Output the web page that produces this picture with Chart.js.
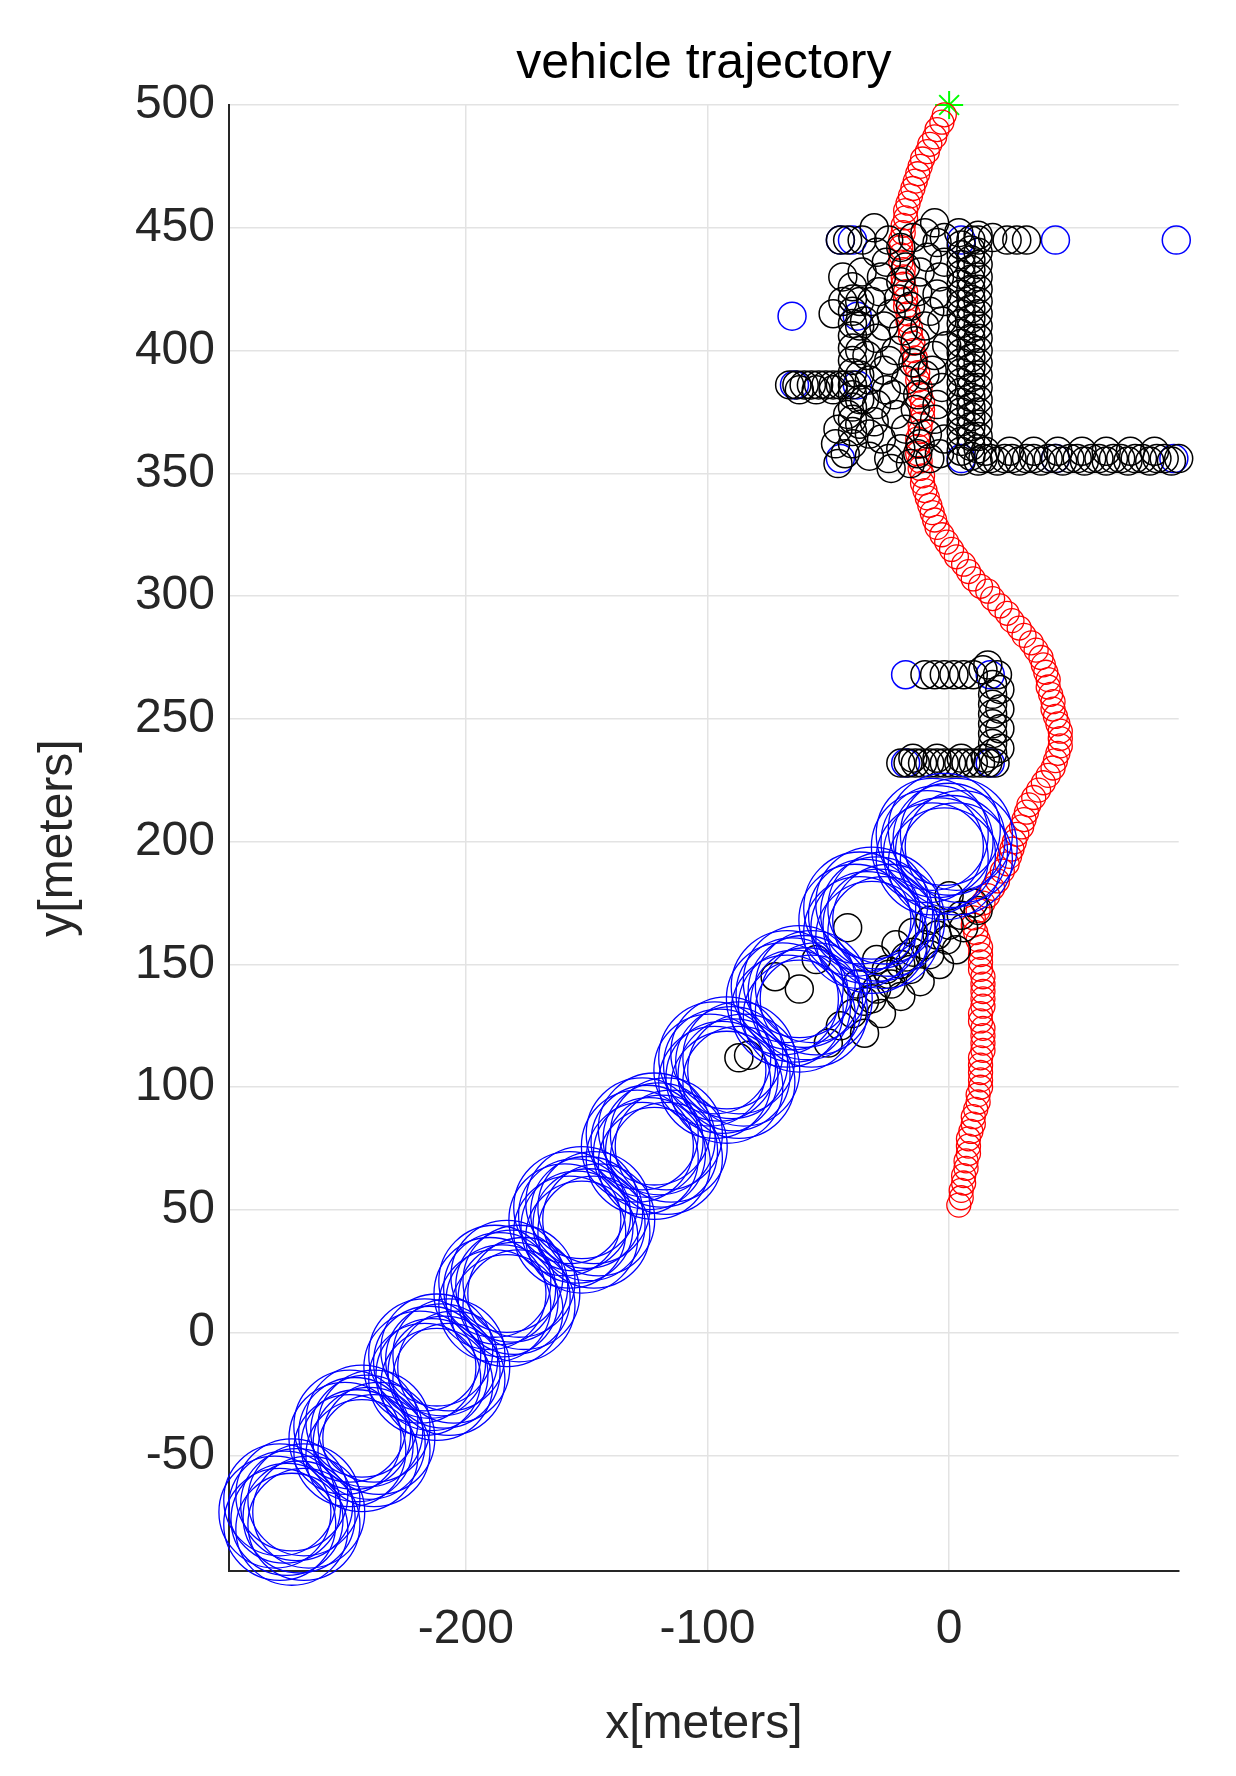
<!DOCTYPE html>
<html>
<head>
<meta charset="utf-8">
<script src="https://cdn.jsdelivr.net/npm/chart.js@4/dist/chart.umd.min.js"></script>
<style>
  body { margin: 0; background: #fff; }
  #wrap { width: 1236px; height: 1776px; }
</style>
</head>
<body>
<div id="wrap"><canvas id="traj"></canvas></div>
<script>
// axis ticks
const xTicks = [-200, -100, 0];
const yTicks = [-50, 0, 50, 100, 150, 200, 250, 300, 350, 400, 450, 500];

// large blue rings (estimated positions, many overlapping markers per ring)
const blueRings = [
  [-279,-73],[-265,-73],[-272,-80],[-272,-66],[-277,-78],[-267,-68],[-277,-68],[-267,-78],[-275,-71],[-269,-75],[-274,-76],[-270,-70],
  [-250,-43],[-236,-43],[-243,-50],[-243,-36],[-248,-48],[-238,-38],[-248,-38],[-238,-48],[-246,-41],[-240,-45],[-245,-46],[-241,-40],
  [-219,-14],[-205,-14],[-212,-21],[-212,-7],[-217,-19],[-207,-9],[-217,-9],[-207,-19],[-215,-12],[-209,-16],[-214,-17],[-210,-11],
  [-190,16],[-176,16],[-183,9],[-183,23],[-188,11],[-178,21],[-188,21],[-178,11],[-186,18],[-180,14],[-185,13],[-181,19],
  [-159,46],[-145,46],[-152,39],[-152,53],[-157,41],[-147,51],[-157,51],[-147,41],[-155,48],[-149,44],[-154,43],[-150,49],
  [-129,76],[-115,76],[-122,69],[-122,83],[-127,71],[-117,81],[-127,81],[-117,71],[-125,78],[-119,74],[-124,73],[-120,79],
  [-99,107],[-85,107],[-92,100],[-92,114],[-97,102],[-87,112],[-97,112],[-87,102],[-95,109],[-89,105],[-94,104],[-90,110],
  [-69,136],[-55,136],[-62,129],[-62,143],[-67,131],[-57,141],[-67,141],[-57,131],[-65,138],[-59,134],[-64,133],[-60,139],
  [-39,168],[-25,168],[-32,161],[-32,175],[-37,163],[-27,173],[-37,173],[-27,163],[-35,170],[-29,166],[-34,165],[-30,171],
  [-9,198],[5,198],[-2,191],[-2,205],[-7,193],[3,203],[-7,203],[3,193],[-5,200],[1,196],[-4,195],[0,201]
];

// small blue markers
const blueSmall = [
  [-45,445],[-40,445],[5,445],[44,445],[94,445],
  [-65,414],[-38,414],[-38,386],[-64,386],
  [-45,356],[5,356],[44,356],[93,356],
  [-18,268],[17,268],[-18,232],[17,232]
];

// black markers
const blackPts = [
  // vertical bar near x=8
  [5,355],[5,359],[5,363],[5,367],[5,371],[5,375],[5,379],[5,383],[5,387],[5,391],[5,395],[5,399],[5,403],[5,407],[5,411],[5,415],[5,419],[5,423],[5,427],[5,431],[5,435],[5,439],[5,443],
  [9,357],[9,361],[9,365],[9,369],[9,373],[9,377],[9,381],[9,385],[9,389],[9,393],[9,397],[9,401],[9,405],[9,409],[9,413],[9,417],[9,421],[9,425],[9,429],[9,433],[9,437],[9,441],[9,445],
  [12,355],[12,360],[12,365],[12,370],[12,375],[12,380],[12,385],[12,390],[12,395],[12,400],[12,405],[12,410],[12,415],[12,420],[12,425],[12,430],[12,435],[12,440],[12,445],
  // horizontal bar y=356
  [14,356],[17,356],[20,355],[23,356],[26,356],[29,355],[32,356],[35,356],[38,355],[41,356],[44,356],[47,355],[50,356],[53,356],[56,355],[59,356],[62,356],[65,355],
  [68,356],[71,356],[74,355],[77,356],[80,356],[83,355],[86,356],[89,356],[92,355],[95,356],[15,359],[25,359],[35,359],[45,359],[55,359],[65,359],[75,359],[85,359],
  // top row y=445
  [-2,446],[4,448],[12,447],[18,446],[24,445],[28,445],[32,445],
  // left bar x=-40 and row y=386
  [-40,362],[-40,367],[-40,372],[-40,377],[-40,382],[-40,386],[-40,391],[-40,396],[-40,401],[-40,406],[-40,411],[-40,416],[-40,421],[-40,426],
  [-37,370],[-37,380],[-37,390],[-37,400],[-37,410],[-37,420],
  [-66,386],[-63,386],[-60,386],[-57,386],[-54,386],[-51,386],[-48,386],[-45,386],[-43,386],[-62,384],[-55,384],[-48,384],
  [-45,445],[-42,445],[-46,354],[-43,358],[-48,415],[-44,420],[-46,368],[-42,374],[-47,362],[-44,430],
  // cloud
  [-30,440],[-25,445],[-20,442],[-15,446],[-10,448],[-5,444],[-28,430],[-20,428],[-12,432],[-4,430],
  [-32,420],[-24,415],[-16,418],[-8,416],[-2,420],[-30,405],[-22,400],[-14,404],[-6,398],[-27,392],
  [-18,388],[-10,390],[-3,385],[-30,378],[-22,374],[-14,376],[-6,372],[-28,364],[-20,360],[-12,362],
  [-4,358],[-25,356],[-16,354],[-8,356],[-34,398],[-35,380],[-36,432],[-1,402],[-33,366],[-26,384],
  [-26,436],[-18,434],[-9,438],[-2,436],[-29,424],[-21,421],[-13,424],[-5,423],[-27,410],[-19,408],
  [-10,410],[-3,412],[-25,396],[-15,395],[-7,392],[-33,388],[-23,382],[-13,382],[-5,378],[-31,371],
  [-18,368],[-9,366],[-2,364],[-24,352],[-13,358],[-33,357],[-35,412],[-36,445],[-31,450],[-6,452],
  // second structure
  [-20,232],[-17,232],[-14,232],[-11,232],[-8,232],[-5,232],[-2,232],[1,232],[4,232],[7,232],[10,232],[13,232],[16,232],[19,232],
  [-15,234],[-5,234],[5,234],[15,234],
  [18,236],[18,240],[18,244],[18,248],[18,252],[18,256],[18,260],[18,264],[20,268],[21,238],[21,246],[21,254],[21,262],
  [-10,268],[-6,268],[-2,268],[2,268],[6,268],[10,268],[14,270],[16,272],
  // diagonal cluster
  [-50,118],[-45,125],[-40,130],[-35,135],[-30,140],[-25,146],[-20,150],[-15,155],[-10,158],[-5,162],
  [0,166],[5,170],[10,175],[-38,142],[-30,152],[-22,158],[-15,163],[-8,168],[0,178],[-35,122],
  [-28,130],[-20,137],[-12,143],[-4,150],[3,156],[-42,165],[-72,145],[-62,140],[-83,113],[-87,112],[-55,152],
  [-32,136],[-24,142],[-16,148],[-8,154],[-1,160],[6,165],[12,172],[-26,148],[-18,153]
];

// red trajectory
const redPts = [
  [4,52],[5,55],[5,58],[6,61],[6,64],[7,67],[7,70],[8,73],[8,76],[8,79],[9,82],[10,85],[10,88],[11,91],[12,94],[12,97],
  [13,100],[13,103],[13,106],[13,109],[13,112],[14,115],[14,118],[14,121],[14,124],[13,127],[13,130],[14,133],[14,136],
  [14,139],[14,142],[14,145],[13,148],[13,151],[13,154],[13,157],[12,160],[11,163],[10,166],[10,169],[12,172],[14,175],
  [16,178],[18,181],[20,184],[22,188],[24,191],[25,194],[26,197],[27,200],[28,203],[30,206],[31,209],[32,212],[33,215],[35,218],
  [37,221],[39,224],[41,227],[43,230],[44,233],[45,236],[46,239],[46,242],[46,245],[45,248],[44,251],[43,254],[43,257],[42,260],
  [41,263],[41,266],[40,269],[39,272],[38,275],[36,278],[34,281],[31,284],[29,287],[26,290],[24,293],[21,296],[18,299],[16,302],
  [13,304],[10,307],[8,310],[6,313],[3,316],[1,319],[-1,322],[-3,325],[-5,328],[-6,331],[-7,334],[-8,337],[-9,340],[-10,343],
  [-11,346],[-11,349],[-12,352],[-12,355],[-13,358],[-13,361],[-13,364],[-12,367],[-12,370],[-11,373],[-11,376],[-11,379],
  [-12,382],[-12,385],[-13,388],[-13,391],[-14,394],[-14,397],[-15,400],[-15,403],[-16,406],[-16,409],[-17,412],[-17,415],
  [-18,418],[-18,421],[-18,424],[-19,427],[-19,430],[-19,433],[-20,436],[-20,439],[-20,442],[-20,445],[-19,448],[-19,451],
  [-18,454],[-18,457],[-17,460],[-16,463],[-15,466],[-14,469],[-13,472],[-12,475],[-11,478],[-9,481],[-8,484],[-6,487],
  [-5,490],[-3,493],[-2,496]
];

const startPt = [[0,500]];

const toXY = arr => arr.map(p => ({ x: p[0], y: p[1] }));

const titlePlugin = {
  id: 'plotTitle',
  afterDraw(chart) {
    const ctx = chart.ctx, a = chart.chartArea;
    ctx.save();
    ctx.fillStyle = '#000';
    ctx.font = '50px "Liberation Sans", Arial, sans-serif';
    ctx.textAlign = 'center';
    ctx.textBaseline = 'alphabetic';
    ctx.fillText('vehicle trajectory', (a.left + a.right) / 2, 78);
    ctx.restore();
  }
};

const tickFont = { family: '"Liberation Sans", Arial, sans-serif', size: 48 };

new Chart(document.getElementById('traj'), {
  type: 'scatter',
  data: {
    datasets: [
      { data: toXY(blueRings), pointStyle: 'circle', pointRadius: 56, borderColor: '#0000ff', backgroundColor: 'transparent', pointBorderWidth: 1.3, clip: false },
      { data: toXY(blackPts), pointRadius: 14, borderColor: '#000', backgroundColor: 'transparent', pointBorderWidth: 1.5, clip: false },
      { data: toXY(blueSmall), pointRadius: 14, borderColor: '#0000ff', backgroundColor: 'transparent', pointBorderWidth: 1.5, clip: false },
      { data: toXY(redPts), pointRadius: 12, borderColor: '#ff0000', backgroundColor: 'transparent', pointBorderWidth: 1.3, clip: false },
      { data: toXY(startPt), pointStyle: 'star', pointRadius: 14, borderColor: '#00ff00', backgroundColor: '#00ff00', pointBorderWidth: 2, clip: false }
    ]
  },
  options: {
    responsive: true,
    maintainAspectRatio: false,
    animation: false,
    layout: { padding: { top: 105, right: 35, left: 0, bottom: 0 } },
    plugins: { legend: { display: false }, tooltip: { enabled: false } },
    scales: {
      x: {
        type: 'linear', min: -298, max: 95,
        afterBuildTicks: s => { s.ticks = xTicks.map(v => ({ value: v })); },
        afterFit: s => { s.height = 205; },
        grid: { color: '#e3e3e3', lineWidth: 1.5, drawTicks: false },
        border: { color: '#262626', width: 2 },
        ticks: { color: '#262626', font: tickFont, padding: 30 },
        title: { display: true, text: 'x[meters]', color: '#262626', font: tickFont, padding: { top: 0, bottom: 22 } }
      },
      y: {
        type: 'linear', min: -97, max: 500,
        afterBuildTicks: s => { s.ticks = yTicks.map(v => ({ value: v })); },
        afterFit: s => { s.width = 229; },
        grid: { color: '#e3e3e3', lineWidth: 1.5, drawTicks: false },
        border: { color: '#262626', width: 2 },
        ticks: { color: '#262626', font: tickFont, padding: 14 },
        title: { display: true, text: 'y[meters]', color: '#262626', font: tickFont, padding: { top: 30, bottom: 0 } }
      }
    }
  },
  plugins: [titlePlugin]
});
</script>
</body>
</html>
